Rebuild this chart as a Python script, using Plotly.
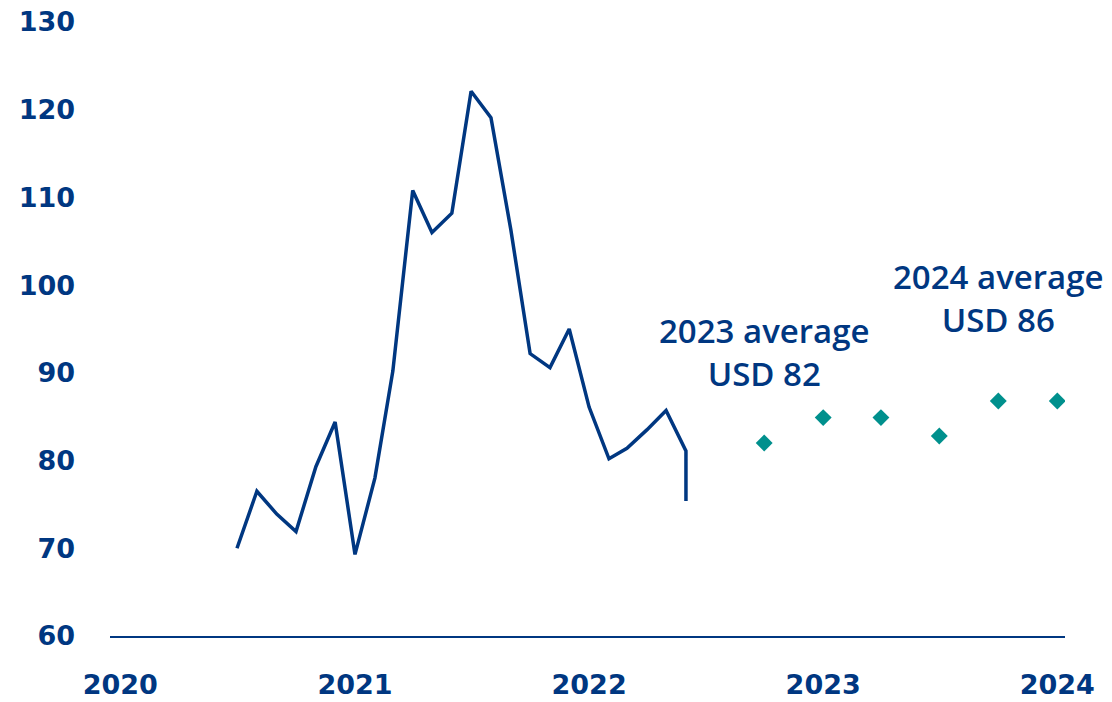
import plotly.graph_objects as go

# Monthly price history
hist_dates = ["2020-07-01", "2020-08-01", "2020-09-01", "2020-10-01", "2020-11-01", "2020-12-01",
              "2021-01-01", "2021-02-01", "2021-03-01", "2021-04-01", "2021-05-01", "2021-06-01",
              "2021-07-01", "2021-08-01", "2021-09-01", "2021-10-01", "2021-11-01", "2021-12-01",
              "2022-01-01", "2022-02-01", "2022-03-01", "2022-04-01", "2022-05-01", "2022-06-01",
              "2022-06-01"]
hist_values = [70.0, 76.5, 73.9, 71.9, 79.3, 84.4,
               69.3, 78.0, 90.2, 110.8, 106.0, 108.2,
               122.1, 119.1, 106.3, 92.2, 90.6, 95.0,
               86.1, 80.2, 81.4, 83.5, 85.7, 81.1,
               75.4]

# Quarterly forecasts
fc_dates = ["2022-10-01", "2023-01-01", "2023-04-01", "2023-07-01", "2023-10-01", "2024-01-01"]
fc_values = [82.0, 84.9, 84.9, 82.8, 86.8, 86.8]

# Annotations
ann_x = ["2022-10-01", "2023-10-01"]
ann_y = [92.4, 98.5]
ann_text = ["2023 average<br>USD 82", "2024 average<br>USD 86"]

year_ticks = ["2020-01-01", "2021-01-01", "2022-01-01", "2023-01-01", "2024-01-01"]
year_labels = ["2020", "2021", "2022", "2023", "2024"]
y_ticks = [60, 70, 80, 90, 100, 110, 120, 130]

NAVY = "#003781"
TEAL = "#00908D"

fig = go.Figure()
fig.add_trace(go.Scatter(x=hist_dates, y=hist_values, mode="lines",
                         line=dict(color=NAVY, width=3.5), hoverinfo="skip", showlegend=False))
fig.add_trace(go.Scatter(x=fc_dates, y=fc_values, mode="markers",
                         marker=dict(symbol="diamond", size=13, color=TEAL), showlegend=False))

for x, y, t in zip(ann_x, ann_y, ann_text):
    fig.add_annotation(x=x, y=y, text=t, showarrow=False, xanchor="center", yanchor="middle",
                       font=dict(family="Open Sans", size=33, color=NAVY, weight=600))

fig.update_layout(
    width=1112, height=702,
    margin=dict(l=110, r=47, t=22, b=66),
    paper_bgcolor="white", plot_bgcolor="white",
    xaxis=dict(type="date", range=["2019-12-16", "2024-01-13"], automargin=False,
               tickvals=year_ticks, ticktext=year_labels,
               showgrid=False, zeroline=False, showline=True, linecolor=NAVY, linewidth=1.5,
               ticks="", ticklabelstandoff=24,
               tickfont=dict(family="DejaVu Sans", size=27, color=NAVY, weight="bold")),
    yaxis=dict(range=[60, 130], tickvals=y_ticks, showgrid=False, zeroline=False, automargin=False,
               showline=False, ticks="", ticklabelstandoff=34,
               tickfont=dict(family="DejaVu Sans", size=27, color=NAVY, weight="bold")),
)

fig.write_html("out.html")
